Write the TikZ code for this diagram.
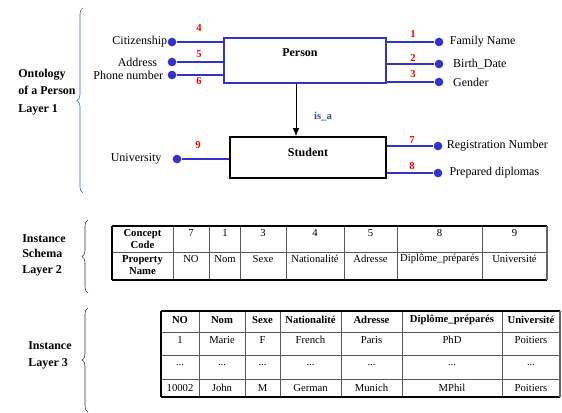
\documentclass[tikz,border=0pt]{standalone}
\usepackage{fontspec}
\setmainfont{Liberation Serif}
\usetikzlibrary{positioning}
\usetikzlibrary{decorations.pathreplacing}
\usetikzlibrary{arrows.meta}
\usepackage{xcolor}

\definecolor{linkblue}{RGB}{51,51,204}
\definecolor{bracecol}{RGB}{60,100,170}
\definecolor{isacol}{RGB}{40,90,140}

\tikzset{
  prop/.style={circle, fill=linkblue, inner sep=0pt, minimum size=6.5pt},
  link/.style={linkblue, line width=1.5pt},
  num/.style={red, font=\fontsize{8}{9}\selectfont\bfseries, inner sep=1pt},
  lbl/.style={font=\fontsize{9}{10}\selectfont, inner sep=0pt},
  layer/.style={align=left, anchor=north west, inner sep=0pt},
  cell/.style={font=\fontsize{8}{9}\selectfont, inner sep=0pt},
  hcell/.style={font=\fontsize{8}{9}\selectfont\bfseries, inner sep=0pt, align=center},
  outer rule/.style={line width=1.2pt},
  inner rule/.style={line width=0.5pt, black!65},
  layerbrace/.style={decorate, decoration={brace, amplitude=4.5pt}},
}

\begin{document}
\begin{tikzpicture}[x=0.75pt, y=-0.75pt]
\useasboundingbox (0,0) rectangle (562,412);

% layer 1 : ontology
\node[draw=linkblue, line width=1.8pt, minimum width=121.5pt, minimum height=33.75pt] (person) at (305,60.5) {};
\node[font=\fontsize{9}{10}\selectfont\bfseries] (personl) at (300,53) {Person};
\node[draw, line width=1.4pt, minimum width=117pt, minimum height=30.75pt] (student) at (308,157.5) {};
\node[font=\fontsize{9}{10}\selectfont\bfseries] (studentl) at (308,152) {Student};

\draw[-{Latex[length=6pt,width=5pt]}, line width=0.6pt] ([xshift=-6.75pt]person.south) coordinate (isatop) -- (isatop |- student.north);
\node[font=\fontsize{8}{9}\selectfont\bfseries, text=isacol] (isal) at (323,117) {is\_a};

\node[prop] (cit) at (172,42) {};
\node[prop] (addr) at (172,62) {};
\node[prop] (phone) at (172,75) {};
\node[prop] (fam) at (439,42) {};
\node[prop] (birth) at (439,64) {};
\node[prop] (gender) at (439,82) {};
\node[prop] (univ) at (177,159) {};
\node[prop] (reg) at (438,146) {};
\node[prop] (dipl) at (438,173) {};

\draw[link] (cit) -- (cit -| person.west);
\draw[link] (addr) -- (addr -| person.west);
\draw[link] (phone) -- (phone -| person.west);
\draw[link] (fam -| person.east) -- (fam);
\draw[link] (birth -| person.east) -- (birth);
\draw[link] (gender -| person.east) -- (gender);
\draw[link] (univ) -- (univ -| student.west);
\draw[link] (reg -| student.east) -- (reg);
\draw[link] (dipl -| student.east) -- (dipl);

\node[lbl, left=0pt of cit] (citl) {Citizenship};
\node[lbl, left=7.5pt of addr] (addrl) {Address};
\node[lbl, left=3pt of phone] (phonel) {Phone number};
\node[lbl, left=8pt of univ] (univl) {University};
\node[lbl, right=4.5pt of fam] (faml) {Family Name};
\node[lbl, right=7pt of birth] (birthl) {Birth\_Date};
\node[lbl, right=7pt of gender] (genderl) {Gender};
\node[lbl, right=3pt of reg] (regl) {Registration Number};
\node[lbl, right=5pt of dipl] (dipll) {Prepared diplomas};

\node[num] (n1) at (413,34) {1};
\node[num] (n2) at (413,58) {2};
\node[num] (n3) at (413,74) {3};
\node[num] (n4) at (199,28) {4};
\node[num] (n5) at (199,54) {5};
\node[num] (n6) at (199,81) {6};
\node[num] (n7) at (412,140) {7};
\node[num] (n8) at (412,166) {8};
\node[num] (n9) at (198,145) {9};

\draw[bracecol, layerbrace] (83,193) -- (83,8);
\node[layer, font=\fontsize{9}{13}\selectfont\bfseries] (onto) at (18,69) {Ontology\\of a Person\\Layer 1};

% layer 2 : instance schema
\foreach \x in {173,209,240,286,344,397,482}
  \draw[inner rule] (\x,226) -- (\x,280);
\draw[inner rule] (112,252) -- (547,252);
\draw[outer rule] (112,226) -- (547,226);
\draw[outer rule] (112,280) -- (547,280);
\draw[outer rule] (112,226) -- (112,280);
\draw[outer rule, black!60] (547,226) -- (547,280);

\node[hcell] (cc) at (142.5,239) {Concept\\Code};
\node[hcell] (pn) at (142.5,265) {Property\\Name};
\foreach \c/\n/\v in {191/7/NO, 225/1/Nom, 263/3/Sexe, 315/4/Nationalité,
                      370.5/5/Adresse, 439.5/8/Diplôme\_préparés, 514.5/9/Université} {
  \node[cell] (code-\n) at (\c,233) {\n};
  \node[cell] (prop-\n) at (\c,259) {\v};
}

\draw[black!80, layerbrace] (88,293) -- (88,220);
\node[layer, font=\fontsize{9}{11.6}\selectfont\bfseries] (schemal) at (22,234) {Instance\\Schema\\Layer 2};

% layer 3 : instances
\foreach \x in {199,245,280,341,402,502}
  \draw[inner rule] (\x,311) -- (\x,397);
\foreach \y in {332,355,379}
  \draw[inner rule] (161,\y) -- (560,\y);
\draw[outer rule] (161,311) -- (560,311);
\draw[outer rule] (161,397) -- (560,397);
\draw[outer rule] (161,311) -- (161,397);
\draw[outer rule, black!60] (560,311) -- (560,397);

\foreach \c/\h/\a/\b [count=\i] in {180/NO/1/10002, 222/Nom/Marie/John, 262.5/Sexe/F/M,
                       310.5/Nationalité/French/German, 371.5/Adresse/Paris/Munich,
                       452/Diplôme\_préparés/PhD/MPhil, 531/Université/Poitiers/Poitiers} {
  \node[hcell] (head-\i) at (\c,320) {\h};
  \node[cell] (first-\i) at (\c,340) {\a};
  \node[cell] (more-\i) at (\c,365) {...};
  \node[cell] (last-\i) at (\c,388) {\b};
}

\draw[black!80, layerbrace] (88,412) -- (88,308);
\node[layer, font=\fontsize{9}{12.75}\selectfont\bfseries] (instl) at (28,341) {Instance\\Layer 3};
\end{tikzpicture}
\end{document}
